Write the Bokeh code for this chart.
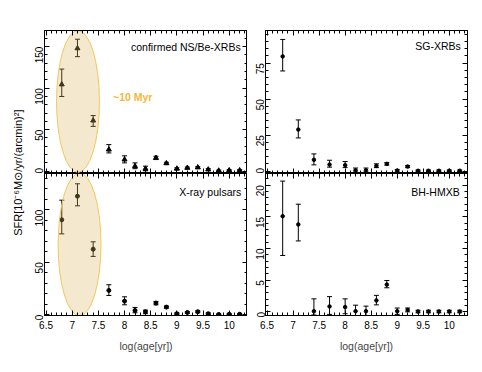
import math
from bokeh.plotting import figure
from bokeh.layouts import row, column
from bokeh.models import (LinearAxis, Range1d, Whisker, ColumnDataSource, Label,
                          SingleIntervalTicker, CustomJSTickFormatter, TeeHead,
                          CustomLabelingPolicy)
from bokeh.embed import file_html
from bokeh.resources import INLINE

# ---- data ----
age = [6.8, 7.1, 7.4, 7.7, 8.0, 8.2, 8.4, 8.6, 8.8, 9.0, 9.2, 9.4, 9.6, 9.8, 10.0, 10.2]

nsbe = [104.5, 148, 61, 26, 14, 6, 3, 16, 9.5, 3, 4, 4.5, 2, 0.6, 1, 1]
nsbe_lo = [90, 138, 54, 22, 10, 3, 0.5, 14, 8.3, 2, 3, 3.5, 1, 0, 0.2, 0.2]
nsbe_hi = [123, 159, 67, 32, 18.5, 10, 6, 18, 10.7, 4, 5, 5.5, 3, 1.3, 1.8, 1.8]

sg = [79.7, 28.9, 7.9, 4.6, 4.2, 0.6, 0.6, 3.7, 5.1, 0.4, 3.2, 0.3, 0.3, 0.3, 0.3, 0.3]
sg_lo = [69.6, 23.1, 4.4, 2.8, 2.5, -0.6, -0.6, 2.5, 4.2, -0.5, 2.5, -0.2, -0.2, -0.2, -0.2, -0.2]
sg_hi = [91.5, 35.6, 12, 7.6, 6.7, 2.2, 2.2, 5.1, 6.0, 1.2, 3.9, 0.8, 0.8, 0.8, 0.8, 0.8]

xrp = [90.5, 113, 62.5, 23.2, 13, 4.1, 2.9, 11.1, 7.3, 1, 2.2, 2.9, 1, 0.3, 0.5, 0.5]
xrp_lo = [77.1, 103.8, 55.6, 18.4, 9.5, 1.9, 1, 9.5, 6.3, 0.2, 1.4, 2.0, 0.2, 0, 0, 0]
xrp_hi = [109.2, 124.8, 69.5, 28.6, 17.1, 7, 4.4, 12.7, 8.3, 1.8, 3.0, 3.8, 1.8, 0.8, 1, 1]

bh = [15.1, 13.8, 0.1, 0.85, 0.75, 0.1, 0.1, 1.8, 4.3, 0.1, 0.3, 0.05, 0.05, 0.05, 0.05, 0.05]
bh_lo = [8.9, 11.2, -0.5, -0.4, -0.3, -0.6, -0.6, 1.1, 3.8, -0.4, 0.0, -0.15, -0.15, -0.15, -0.15, -0.15]
bh_hi = [20.65, 17.0, 2.05, 2.4, 2.05, 1.05, 0.9, 2.6, 4.95, 0.6, 0.6, 0.25, 0.25, 0.25, 0.25, 0.25]

x_ticks_step = 0.5

FONT = "Liberation Sans"
FS = "10px"
FS_LAB = "10.5px"

fmt_code = "return String(Math.round(tick*10)/10);"
no_labels_code = "for (const i of Array.from(indices)) { indices.unset(i) } return indices;"


def style_axis(ax, ticker, labels=True, orient=None, standoff=5):
    ax.ticker = ticker
    ax.formatter = CustomJSTickFormatter(code=fmt_code)
    ax.axis_line_color = "black"
    ax.major_tick_line_color = "black"
    ax.minor_tick_line_color = "black"
    ax.major_tick_in = 5
    ax.major_tick_out = 0
    ax.minor_tick_in = 3
    ax.minor_tick_out = 0
    ax.major_label_text_font = FONT
    ax.major_label_text_color = "black"
    if labels:
        ax.major_label_text_font_size = FS
        ax.major_label_standoff = standoff
    else:
        ax.major_label_text_font_size = "0px"
        ax.major_label_standoff = 0
        ax.major_label_policy = CustomLabelingPolicy(code=no_labels_code)
    if orient is not None:
        ax.major_label_orientation = orient


def make_panel(width, height, yr, ystep, mbl, mbr, mbt, mbb, xlabels,
               y, lo, hi, marker, msize, label_txt, label_xy):
    p = figure(width=width, height=height, output_backend="svg", toolbar_location=None,
               x_range=Range1d(6.47, 10.35), y_range=Range1d(*yr),
               min_border_left=mbl, min_border_right=mbr,
               min_border_top=mbt, min_border_bottom=mbb)
    p.xgrid.visible = False
    p.ygrid.visible = False
    p.outline_line_color = "black"
    p.background_fill_color = "white"
    p.border_fill_color = "white"

    xt = lambda: SingleIntervalTicker(interval=x_ticks_step, num_minor_ticks=5)
    yt = lambda: SingleIntervalTicker(interval=ystep, num_minor_ticks=5)

    style_axis(p.xaxis[0], xt(), labels=xlabels, standoff=5)
    style_axis(p.yaxis[0], yt(), labels=True, orient=math.pi / 2, standoff=5)
    if xlabels:
        p.xaxis[0].axis_label = "log(age[yr])"
        p.xaxis[0].axis_label_text_font = FONT
        p.xaxis[0].axis_label_text_font_size = FS_LAB
        p.xaxis[0].axis_label_text_font_style = "normal"
        p.xaxis[0].axis_label_standoff = 8

    top = LinearAxis()
    style_axis(top, xt(), labels=False)
    p.add_layout(top, "above")
    right = LinearAxis()
    style_axis(right, yt(), labels=False)
    p.add_layout(right, "right")

    src = ColumnDataSource(dict(x=age, y=y, lo=lo, hi=hi))
    w = Whisker(source=src, base="x", lower="lo", upper="hi", line_color="black",
                line_width=1, level="underlay",
                lower_head=TeeHead(size=5, line_color="black", line_width=1),
                upper_head=TeeHead(size=5, line_color="black", line_width=1))
    p.add_layout(w)
    r = p.scatter("x", "y", source=src, marker=marker, size=msize,
                  fill_color="black", line_color="black")
    r.level = "underlay"

    lab = Label(x=label_xy[0], y=label_xy[1], text=label_txt, text_align="right",
                text_baseline="middle", text_font=FONT, text_font_size=FS_LAB,
                text_color="black")
    p.add_layout(lab)
    return p


# ellipse annotations ("~10 Myr" region)
ell_x = [7.11, 7.14]
ell_y = [84, 67]
ell_w = [0.82, 0.82]
ell_h = [171, 136]

tl = make_panel(219, 173, (-2.8, 169.5), 50, 16, 0, 30, 0, False,
                nsbe, nsbe_lo, nsbe_hi, "triangle", 5,
                "confirmed NS/Be-XRBs", (10.22, 150))
tr = make_panel(235, 173, (-1.6, 97.7), 25, 18, 15, 30, 0, False,
                sg, sg_lo, sg_hi, "circle", 3.5,
                "SG-XRBs", (10.22, 86.6))
bl = make_panel(219, 182, (-0.7, 134.6), 50, 16, 0, 0, 40, True,
                xrp, xrp_lo, xrp_hi, "circle", 4,
                "X-ray pulsars", (10.23, 116.8))
br = make_panel(235, 182, (-0.58, 21.85), 5, 18, 15, 0, 40, True,
                bh, bh_lo, bh_hi, "circle", 3.5,
                "BH-HMXB", (10.2, 18.9))

for p, i in ((tl, 0), (bl, 1)):
    p.ellipse(x=ell_x[i], y=ell_y[i], width=ell_w[i], height=ell_h[i],
              fill_color="#d9b45f", fill_alpha=0.3,
              line_color="#f2c85a", line_width=1)

tl.add_layout(Label(x=7.78, y=89, text="~10 Myr", text_align="left",
                    text_baseline="middle", text_font=FONT, text_font_size=FS_LAB,
                    text_font_style="bold", text_color="#f2b73c"))

# shared y-axis label strip
strip = figure(width=28, height=355, output_backend="svg", toolbar_location=None,
               x_range=Range1d(0, 1), y_range=Range1d(0, 1),
               min_border=0, min_border_left=0, min_border_right=0,
               min_border_top=0, min_border_bottom=0)
strip.axis.visible = False
strip.xgrid.visible = False
strip.ygrid.visible = False
strip.outline_line_color = None
strip.add_layout(Label(x=0.64, y=0.515, text="SFR[10\u207b\u2076M\u2299/yr/(arcmin)\u00b2]",
                       angle=math.pi / 2, text_align="center", text_baseline="middle",
                       text_font=FONT, text_font_size="11px", text_color="black"))

layout = row(strip, column(row(tl, tr), row(bl, br)))

open("out.html", "w").write(file_html(layout, INLINE))
